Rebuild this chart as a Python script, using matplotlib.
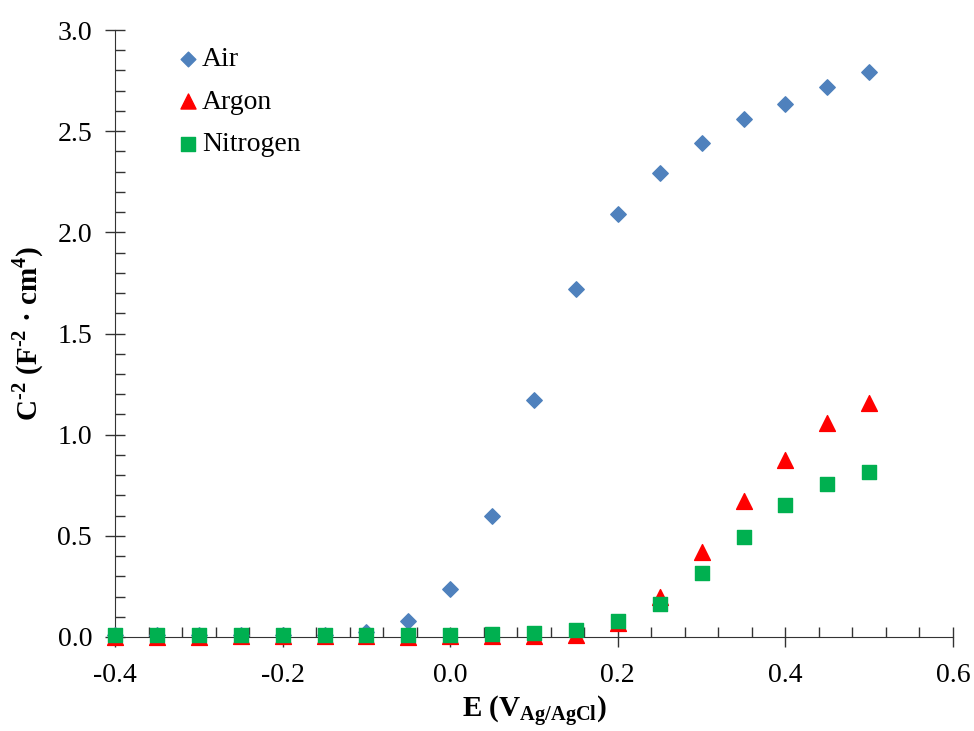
import matplotlib
matplotlib.use("Agg")
import matplotlib.pyplot as plt
from matplotlib.ticker import MultipleLocator

plt.rcParams['font.family'] = ['Liberation Serif', 'DejaVu Serif']
plt.rcParams['mathtext.fontset'] = 'custom'
plt.rcParams['mathtext.rm'] = 'Liberation Serif'
plt.rcParams['mathtext.bf'] = 'Liberation Serif:bold'
plt.rcParams['axes.unicode_minus'] = False

# potential (V vs Ag/AgCl)
E = [-0.40, -0.35, -0.30, -0.25, -0.20, -0.15, -0.10, -0.05, 0.00, 0.05,
     0.10, 0.15, 0.20, 0.25, 0.30, 0.35, 0.40, 0.45, 0.50]
air = [0.01, 0.01, 0.01, 0.01, 0.01, 0.01, 0.025, 0.08, 0.235, 0.60,
       1.17, 1.72, 2.09, 2.295, 2.44, 2.56, 2.635, 2.72, 2.79]
argon = [0.002, 0.002, 0.002, 0.004, 0.004, 0.006, 0.004, 0.002, 0.003, 0.005,
         0.005, 0.01, 0.07, 0.20, 0.42, 0.67, 0.875, 1.06, 1.155]
nitrogen = [0.012, 0.012, 0.012, 0.01, 0.01, 0.01, 0.012, 0.01, 0.01, 0.015,
            0.02, 0.035, 0.08, 0.163, 0.317, 0.495, 0.65, 0.754, 0.816]

fig = plt.figure(figsize=(9.74, 7.31), dpi=100)
ax = fig.add_axes([115/974, 1-637/731, (953-115)/974, (637-30)/731])

ax.scatter(E, air, marker='D', s=62, color='#4F81BD', label='Air', clip_on=False, zorder=3)
ax.scatter(E, argon, marker='^', s=130, color='#FF0000', label='Argon', clip_on=False, zorder=3)
ax.scatter(E, nitrogen, marker='s', s=105, color='#00B050', label='Nitrogen', clip_on=False, zorder=3)

ax.set_xlim(-0.4, 0.6)
ax.set_ylim(0, 3.0)
ax.xaxis.set_major_locator(MultipleLocator(0.2))
ax.xaxis.set_minor_locator(MultipleLocator(0.04))
ax.yaxis.set_major_locator(MultipleLocator(0.5))
ax.yaxis.set_minor_locator(MultipleLocator(0.1))
ax.xaxis.set_major_formatter(plt.FuncFormatter(lambda v, p: f"{v:.1f}".replace("-0.0", "0.0")))
ax.yaxis.set_major_formatter(plt.FuncFormatter(lambda v, p: f"{v:.1f}"))

ax.tick_params(which='major', direction='inout', length=15, width=1, labelsize=20,
               color='#333333')
ax.tick_params(axis='y', which='major', pad=9)
ax.tick_params(axis='x', which='major', pad=11)
ax.tick_params(which='minor', direction='in', length=7, width=1, color='#333333')
for s in ['top', 'right']:
    ax.spines[s].set_visible(False)
for s in ['left', 'bottom']:
    ax.spines[s].set_color('#333333')

ax.set_xlabel(r'E (V$_{\mathbf{Ag/AgCl}}$)', fontsize=21, fontweight='bold', labelpad=4)
ax.set_ylabel('C$^{\\mathbf{\u20102}}$ (F$^{\\mathbf{\u20102}}$ · cm$^{\\mathbf{4}}$)',
              fontsize=21, fontweight='bold', labelpad=8)

ax.legend(loc='upper left', bbox_to_anchor=(0.077, 0.973), frameon=False, fontsize=20,
          handlelength=0.6, handletextpad=0.2, labelspacing=0.62, markerscale=0.95,
          borderaxespad=0, borderpad=0)

fig.savefig('out.png', dpi=100)
